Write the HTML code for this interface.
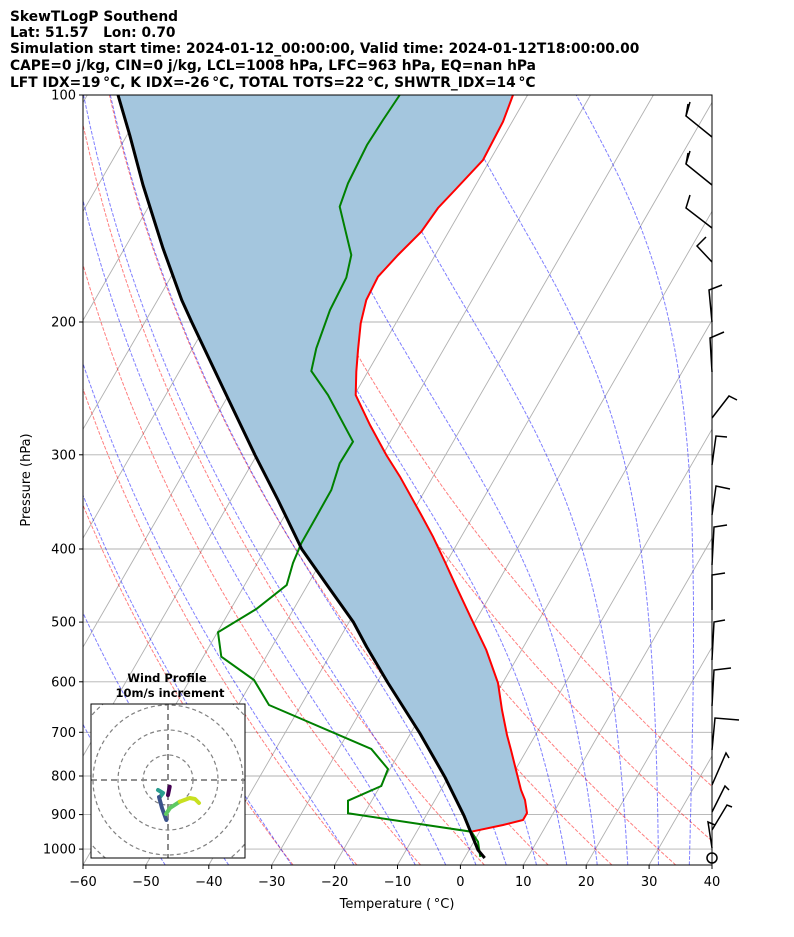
<!DOCTYPE html>
<html><head><meta charset="utf-8"><style>
body{margin:0;background:#fff;width:794px;height:937px;overflow:hidden;font-family:"DejaVu Sans","Liberation Sans",sans-serif}
svg{display:block}
</style></head><body>
<svg id="s" width="794" height="937" viewBox="0 0 794 937" xmlns="http://www.w3.org/2000/svg" font-family="DejaVu Sans, Liberation Sans, sans-serif">
<defs><clipPath id="pc"><rect x="83" y="95" width="629" height="770"/></clipPath>
<clipPath id="hc"><rect x="91" y="704" width="154" height="154"/></clipPath></defs>
<g font-weight="bold" font-size="13.8" fill="#000">
<text x="10" y="21">SkewTLogP Southend</text>
<text x="10" y="37">Lat: 51.57&#160;&#160;&#160;Lon: 0.70</text>
<text x="10" y="53">Simulation start time: 2024-01-12_00:00:00, Valid time: 2024-01-12T18:00:00.00</text>
<text x="10" y="70">CAPE=0 j/kg, CIN=0 j/kg, LCL=1008 hPa, LFC=963 hPa, EQ=nan hPa</text>
<text x="10" y="87">LFT IDX=19</text>
</g>
<g id="bg" clip-path="url(#pc)"></g>
<g id="fg"></g>
</svg>
<script>
const NS="http://www.w3.org/2000/svg";
const s=document.getElementById('s'),bg=document.getElementById('bg'),fg=document.getElementById('fg');
s.querySelectorAll('text')[4].textContent="LFT IDX=19\u2009\u00B0C, K IDX=-26\u2009\u00B0C, TOTAL TOTS=22\u2009\u00B0C, SHWTR_IDX=14\u2009\u00B0C";
function el(t,a,p){const e=document.createElementNS(NS,t);for(const k in a)e.setAttribute(k,a[k]);(p||bg).appendChild(e);return e;}
const Y=p=>95+327.5*Math.log(p/100);
const X=(T,p)=>83+(T+60)*6.29+(865-Y(p))*0.5774;
function pl(pts,st,par){el('polyline',Object.assign({points:pts.map(q=>q[0].toFixed(1)+','+q[1].toFixed(1)).join(' '),fill:'none'},st),par);}
for(let T=-160;T<=40;T+=10){pl([[X(T,1050),865],[X(T,100),95]],{stroke:'#b0b0b0','stroke-width':0.9});}
for(let p=100;p<=1000;p+=100){pl([[83,Y(p)],[712,Y(p)]],{stroke:'#b0b0b0','stroke-width':0.9});}
const ps=[];for(let p=1050;p>=99.9;p-=10)ps.push(p);
for(let t0=-30;t0<=50;t0+=10){const th=t0+273.15;pl(ps.map(p=>[X(th*Math.pow(p/1000,0.2857)-273.15,p),Y(p)]),{stroke:'#ff0000','stroke-opacity':0.5,'stroke-width':1,'stroke-dasharray':'3.7,1.6'});}
function dTdp(T,p){const Tc=T-273.15;const es=6.112*Math.exp(17.67*Tc/(Tc+243.5));const rs=0.622*es/(p-es);const Rd=287.04,Cp=1005.7,Lv=2.501e6;return (Rd*T+Lv*rs)/(Cp+Lv*Lv*rs*0.622/(Rd*T*T))/p;}
function moist(t0){const out=[];let T=t0+273.15;let p=1000;while(p<1050){T+=dTdp(T,p);p+=1;}
 out.push([p,T]);while(p>100){const h=-2;const k1=dTdp(T,p),k2=dTdp(T+k1*h/2,p+h/2),k3=dTdp(T+k2*h/2,p+h/2),k4=dTdp(T+k3*h,p+h);T+=h*(k1+2*k2+2*k3+k4)/6;p+=h;if(Math.round(p)%10==0)out.push([p,T]);}
 return out;}
const mt=[-50,-40,-30,-20];for(let t=-10;t<=45;t+=5)mt.push(t);
for(const t0 of mt){pl(moist(t0).map(q=>[X(q[1]-273.15,q[0]),Y(q[0])]),{stroke:'#0000ff','stroke-opacity':0.5,'stroke-width':1,'stroke-dasharray':'3.7,1.6'});}
const red=[[513,95],[503,121.7],[483,160],[455,190],[438,208],[421.3,231.7],[398,255],[378,276.7],[366.3,300],[360.7,323.3],[358,350],[356.3,371.7],[355.7,395],[370,425],[386.3,455],[400,476.7],[421.3,515],[433,536.7],[445,562],[456.3,586.7],[471,618],[486.3,650],[498,683],[502,710],[507,735],[511,750],[516,770],[521,790],[525,800],[527,813],[523,820],[503,825],[471.3,831.7]];
const blk=[[118,95],[129.7,135],[143,185],[163,248.3],[181.7,300],[191.7,322],[223,388],[255,455],[278,500],[301.7,549],[327,585],[353.3,622],[366.7,647],[388,683],[419.7,733],[444.7,776.7],[464,815.7],[478,850],[484.7,858]];
const grn=[[399.7,95],[383,120],[367,145],[348,183.3],[339.7,206.7],[351.3,255],[346.3,277.7],[330,310],[316.3,348.3],[311.3,371],[328,395],[353,441.7],[339.7,463.3],[331.3,490],[316.3,516.7],[301.3,543.3],[293,563],[286.7,585],[256.3,609],[218,632.3],[221.3,656.7],[254,680],[269,705],[371.3,749],[388,769],[381.3,786],[348,800.7],[348,813.3],[471.3,831.7],[478,841.7],[480.3,857]];
const fillPts=blk.filter(q=>q[1]<=831).concat([[471.3,831.7]]).concat(red.slice().reverse());
el('polygon',{points:fillPts.map(q=>q.join(',')).join(' '),fill:'#a4c6de'},fg);
pl(red,{stroke:'#ff0000','stroke-width':2},fg);
pl(grn,{stroke:'#008000','stroke-width':2},fg);
pl(blk,{stroke:'#000','stroke-width':3,'stroke-linejoin':'round'},fg);
el('rect',{x:83,y:95,width:629,height:770,fill:'none',stroke:'#000','stroke-width':1},fg);
for(let p=100;p<=1000;p+=100){const y=Y(p);pl([[79,y],[83,y]],{stroke:'#000'},fg);const t=el('text',{x:76,y:y+4.5,'text-anchor':'end','font-size':13},fg);t.textContent=p;}
for(let T=-60;T<=40;T+=10){const x=83+(T+60)*6.29;pl([[x,865],[x,869]],{stroke:'#000'},fg);const t=el('text',{x:x,y:886,'text-anchor':'middle','font-size':13},fg);t.textContent=(T<0?'\u2212'+(-T):T);}
let t=el('text',{x:397,y:908,'text-anchor':'middle','font-size':13},fg);t.textContent='Temperature (\u2009\u00B0C)';
t=el('text',{x:0,y:0,'text-anchor':'middle','font-size':13,transform:'translate(30,480) rotate(-90)'},fg);t.textContent='Pressure (hPa)';
const bar=[[[712,137],[686,116],[690,102]],[[712,185],[686,164],[690,151]],[[712,228],[686,208],[690,195]],[[712,262],[697,246],[706,237]],[[712,322],[709,290],[722,285]],[[712,372],[710,338],[724,332]],[[712,418],[729,396],[737,400]],[[712,465],[716,436],[727,437]],[[712,515],[716,486],[730,489]],[[712,565],[714,527],[727,525]],[[712,610],[712,575],[725,573]],[[712,660],[714,622],[725,620]],[[712,706],[714,670],[731,668]],[[712,750],[715,718],[739,720]],[[712,785],[726,753],[729,758]],[[712,812],[725,786],[729,790]],[[712,830],[727,805],[732,807]],[[712,848],[708,822],[715,825]]];
for(const b of bar)pl(b,{stroke:'#000','stroke-width':1.5},fg);
pl([[686,116],[688,104]],{stroke:'#000','stroke-width':1.5},fg);
pl([[686,164],[688,153]],{stroke:'#000','stroke-width':1.5},fg);
el('circle',{cx:712,cy:858,r:5,fill:'none',stroke:'#000','stroke-width':1.5},fg);
el('rect',{x:91,y:704,width:154,height:154,fill:'#fff'},fg);
const hg=el('g',{'clip-path':'url(#hc)'},fg);
for(const r of [25,50,75,100])el('circle',{cx:168,cy:780,r:r,fill:'none',stroke:'#808080','stroke-dasharray':'4,3','stroke-width':1.2},hg);
pl([[91,780],[245,780]],{stroke:'#808080','stroke-width':1.8,'stroke-dasharray':'6,4'},hg);
pl([[168,704],[168,858]],{stroke:'#808080','stroke-width':1.8,'stroke-dasharray':'6,4'},hg);
const hod=[[[169.7,786.7],[168,795]],'#440154',[[158,790],[163,793],[160,797]],'#2a9d8f',[[159,797],[162,808],[166.3,820]],'#3b528b',[[166,814],[170,808],[179.7,801.7]],'#5ec962',[[179.7,801.7],[189.7,798],[195,799],[199,803]],'#c8e020'];
for(let i=0;i<hod.length;i+=2)pl(hod[i],{stroke:hod[i+1],'stroke-width':4,'stroke-linecap':'round','stroke-linejoin':'round'},hg);
el('rect',{x:91,y:704,width:154,height:154,fill:'none',stroke:'#000','stroke-width':1},fg);
t=el('text',{x:167,y:682,'text-anchor':'middle','font-size':11.5,'font-weight':'bold'},fg);t.textContent='Wind Profile';
t=el('text',{x:170,y:697,'text-anchor':'middle','font-size':11.5,'font-weight':'bold'},fg);t.textContent='10m/s increment';
</script>
</body></html>
